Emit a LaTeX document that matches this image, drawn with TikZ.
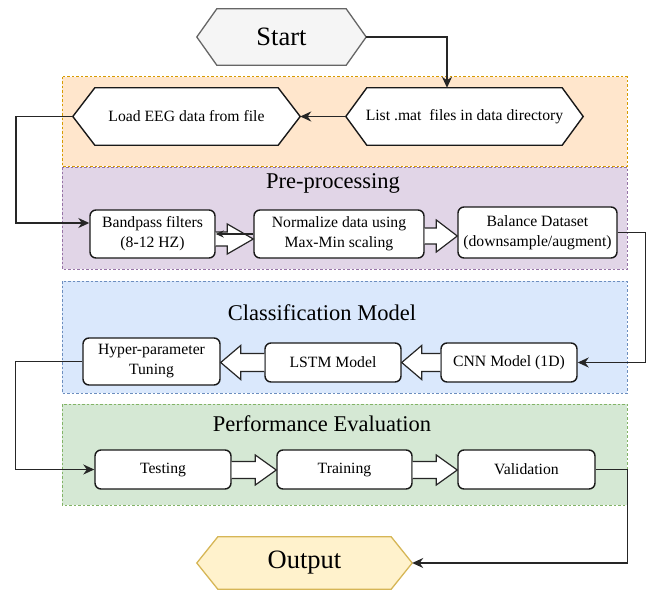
\documentclass[tikz,border=0pt]{standalone}
\usepackage{fontspec}
\setmainfont{Liberation Serif}
\usetikzlibrary{arrows.meta,calc}
\pgfdeclarelayer{back}
\pgfdeclarelayer{mid}
\pgfsetlayers{back,mid,main}
\definecolor{orfill}{HTML}{FFE6CC}
\definecolor{ordraw}{HTML}{D79B00}
\definecolor{pufill}{HTML}{E1D5E7}
\definecolor{pudraw}{HTML}{9673A6}
\definecolor{blfill}{HTML}{DAE8FC}
\definecolor{bldraw}{HTML}{6C8EBF}
\definecolor{grfill}{HTML}{D5E8D4}
\definecolor{grdraw}{HTML}{82B366}
\definecolor{stfill}{HTML}{F5F5F5}
\definecolor{stdraw}{HTML}{666666}
\definecolor{oufill}{HTML}{FFF2CC}
\definecolor{oudraw}{HTML}{D6B656}
\newcommand\hexpath[3]{\draw[#3] (#1.west) -- ([xshift=#2]#1.north west) -- ([xshift=-#2]#1.north east) -- (#1.east) -- ([xshift=-#2]#1.south east) -- ([xshift=#2]#1.south west) -- cycle;}
% right-pointing hollow arrow: #1 source, #2 target, #3 y (px), #4 head length, #5 shaft half, #6 head half
\newcommand\hollowR[6]{\draw[harrow] let \p1=(#1.east), \p2=(#2.west) in
  (\x1,{-#3pt+#5pt}) -- ({\x2-#4pt},{-#3pt+#5pt}) -- ({\x2-#4pt},{-#3pt+#6pt}) -- (\x2,{-#3pt}) -- ({\x2-#4pt},{-#3pt-#6pt}) -- ({\x2-#4pt},{-#3pt-#5pt}) -- (\x1,{-#3pt-#5pt});}
% left-pointing hollow arrow
\newcommand\hollowL[6]{\draw[harrow] let \p1=(#1.west), \p2=(#2.east) in
  (\x1,{-#3pt+#5pt}) -- ({\x2+#4pt},{-#3pt+#5pt}) -- ({\x2+#4pt},{-#3pt+#6pt}) -- (\x2,{-#3pt}) -- ({\x2+#4pt},{-#3pt-#6pt}) -- ({\x2+#4pt},{-#3pt-#5pt}) -- (\x1,{-#3pt-#5pt});}
\begin{document}
\begin{tikzpicture}[x=1pt,y=-1pt,
  box/.style={draw=black!90, line width=1.4pt, rounded corners=6pt, fill=white, align=center,
    font=\fontsize{15.7}{20}\selectfont, inner sep=0pt},
  hexnode/.style={inner sep=0pt, align=center, font=\fontsize{15.7}{20}\selectfont},
  bignode/.style={inner sep=0pt, align=center, font=\fontsize{26.5}{30}\selectfont},
  hexline/.style={draw=black!90, line width=1.4pt, fill=white},
  conn/.style={draw=black!85, line width=1.4pt, -{Stealth[length=11pt,width=10pt,inset=3.5pt]}},
  harrow/.style={draw=black!85, line width=1.2pt, fill=white},
  panel/.style={line width=1pt, dash pattern=on 2.5pt off 2pt},
  title/.style={inner sep=0pt, font=\fontsize{22.5}{26}\selectfont}
]
\useasboundingbox (0,0) rectangle (651,594);

% panels
\begin{pgfonlayer}{back}
  \draw[panel, draw=ordraw, fill=orfill] (62,77) rectangle (627,166);
  \draw[panel, draw=pudraw, fill=pufill] (62,167) rectangle (627,269);
  \draw[panel, draw=bldraw, fill=blfill] (62,281) rectangle (627,393);
  \draw[panel, draw=grdraw, fill=grfill] (62,404) rectangle (627,505);
\end{pgfonlayer}

% titles
\node[title] (tpre) at (333,183) {Pre-processing};
\node[title] (tcls) at (322,313) {Classification Model};
\node[title] (tperf) at (322,424) {Performance Evaluation};

% hexagon nodes
\node[bignode, minimum width=169pt, minimum height=56pt] (start) at (281.5,37) {Start};
\node[hexnode, minimum width=227pt, minimum height=57pt] (load) at (186.5,116.5) {Load EEG data from file};
\node[hexnode, minimum width=237pt, minimum height=57pt] (list) at (464.5,116.5) {List .mat\ \ files in data directory};
\node[bignode, minimum width=215pt, minimum height=52pt] (out) at (304.5,563) {Output};
\begin{pgfonlayer}{mid}
  \hexpath{start}{20pt}{draw=stdraw, line width=1.3pt, fill=stfill}
  \hexpath{load}{22pt}{hexline}
  \hexpath{list}{21pt}{hexline}
  \hexpath{out}{21pt}{draw=oudraw, line width=1.3pt, fill=oufill}
\end{pgfonlayer}

% pre-processing boxes
\node[box, minimum width=125pt, minimum height=48pt] (bp) at (152.5,234) {Bandpass filters\\(8-12 HZ)};
\node[box, minimum width=170pt, minimum height=48pt] (nm) at (339,234) {Normalize data using\\Max-Min scaling};
\node[box, minimum width=159pt, minimum height=51pt] (bal) at (537.5,232.5) {Balance Dataset\\(downsample/augment)};

% classification boxes
\node[box, minimum width=137pt, minimum height=47pt] (hyp) at (151.5,361.5) {Hyper-parameter\\Tuning};
\node[box, minimum width=136pt, minimum height=39pt] (lstm) at (333,362.5) {LSTM Model};
\node[box, minimum width=136pt, minimum height=39pt] (cnn) at (509,362.5) {CNN Model (1D)};

% evaluation boxes
\node[box, minimum width=136pt, minimum height=39pt] (test) at (163,469.5) {Testing};
\node[box, minimum width=135pt, minimum height=39pt] (train) at (344.5,469.5) {Training};
\node[box, minimum width=137pt, minimum height=39pt] (val) at (526.5,469.5) {Validation};

% hollow arrows
\hollowR{bp}{nm}{239}{26}{7}{15}
\hollowR{nm}{bal}{236}{21}{8}{16}
\hollowL{cnn}{lstm}{362.5}{20}{9}{17}
\hollowL{lstm}{hyp}{362.5}{20}{9}{17}
\hollowR{test}{train}{470}{21}{8.5}{15}
\hollowR{train}{val}{470}{21}{8.5}{15}

% connectors
\draw[conn] (start.east) -| ([xshift=-17.5pt]list.north);
\draw[conn] (list.west) -- (load.east);
\draw[conn] (load.west) -- ++(-57,0) |- ([yshift=11pt]bp.west);
\draw[conn, -{Stealth[length=8pt,width=7pt,inset=2.5pt]}] (nm.west) -- (bp.east);
\draw[conn] (bal.east) -- ++(28,0) |- (cnn.east);
\draw[conn] (hyp.west) -- ++(-67,0) |- (test.west);
\draw[conn] (val.east) -- ++(32,0) |- (out.east);
\end{tikzpicture}
\end{document}
